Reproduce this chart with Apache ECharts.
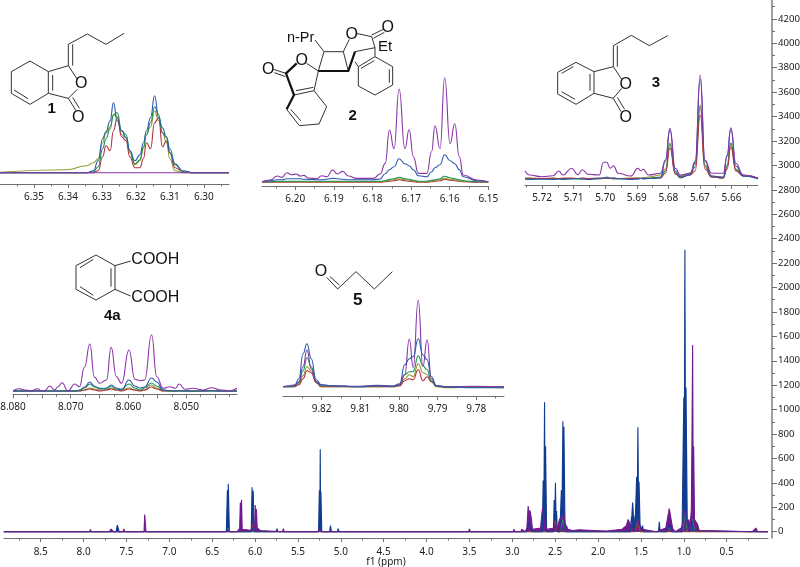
<!DOCTYPE html>
<html>
<head>
<meta charset="utf-8">
<style>html,body{margin:0;padding:0;background:#fff}#c{width:800px;height:567px}</style>
<script src="https://cdn.jsdelivr.net/npm/echarts@6/dist/echarts.min.js"></script>
</head>
<body>
<div id="c"></div>
<script>
// ---------- main spectrum (ppm / intensity) ----------
const mainYMajor = [0,200,400,600,800,1000,1200,1400,1600,1800,2000,2200,2400,2600,2800,3000,3200,3400,3600,3800,4000,4200];
const mainYMinor = [100,300,500,700,900,1100,1300,1500,1700,1900,2100,2300,2500,2700,2900,3100,3300,3500,3700,3900,4100,4300];
const mainXMajor = [8.5,8,7.5,7,6.5,6,5.5,5,4.5,4,3.5,3,2.5,2,1.5,1,0.5];
const mainXMinor = [8.75,8.25,7.75,7.25,6.75,6.25,5.75,5.25,4.75,4.25,3.75,3.25,2.75,2.25,1.75,1.25,0.75,0.25];

const mainBluePpm = [8.93,7.62,7.607,7.598,7.585,6.46,6.45,6.44,6.335,6.323,6.318,6.312,6.30,6.045,6.035,6.028,6.022,6.01,5.755,5.745,5.735,5.31,5.30,5.29,5.26,5.25,5.244,5.24,5.236,5.232,5.222,5.13,5.12,5.11,5.04,5.03,5.02,2.9,2.83,2.815,2.80,2.785,2.77,2.65,2.64,2.632,2.624,2.618,2.612,2.60,2.52,2.512,2.505,2.497,2.49,2.484,2.475,2.445,2.428,2.42,2.41,2.404,2.398,2.385,2.26,2.25,2.24,1.625,1.61,1.603,1.597,1.59,1.583,1.57,1.565,1.55,1.543,1.535,1.528,1.522,1.51,1.49,1.48,1.47,1.295,1.286,1.275,1.20,1.17,1.14,1.02,1.0,0.995,0.987,0.98,0.974,0.96,0.94,0.925,0.905,0.895,0.88,0.2,0.018];
const mainBlueInt = [0,0,55,55,0,0,8,0,0,340,200,393,0,0,363,200,335,0,0,25,0,0,10,0,0,340,180,675,180,330,0,0,50,0,0,25,0,0,0,80,60,50,0,0,420,150,1060,200,700,0,0,260,90,400,90,170,0,0,340,200,905,300,860,0,0,12,0,0,120,80,240,80,130,0,0,450,200,855,200,410,60,10,50,0,0,82,0,0,60,0,0,1100,400,2310,400,1180,100,110,0,90,10,0,0,0];

const mainPurplePpm = [8.93,8.34,8.33,8.32,7.93,7.92,7.91,7.70,7.68,7.665,7.65,7.54,7.53,7.52,7.295,7.287,7.28,7.272,6.21,6.20,6.18,6.172,6.166,6.158,6.15,6.14,6.02,6.005,5.998,5.992,5.985,5.975,5.96,5.94,5.93,5.68,5.67,5.66,5.27,5.25,5.23,4.66,4.65,4.64,3.83,3.82,3.81,3.51,3.50,3.49,2.99,2.98,2.97,2.90,2.89,2.85,2.83,2.815,2.805,2.795,2.78,2.765,2.75,2.67,2.655,2.645,2.63,2.62,2.60,2.51,2.50,2.47,2.45,2.42,2.40,2.38,2.35,2.30,2.22,2.05,1.90,1.72,1.67,1.65,1.63,1.60,1.57,1.54,1.52,1.48,1.32,1.21,1.19,1.17,1.155,1.13,1.10,1.03,1.01,0.995,0.98,0.96,0.94,0.93,0.912,0.905,0.897,0.89,0.885,0.875,0.86,0.84,0.82,0.2,0.158,0.14,0.018];
const mainPurpleInt = [0,0,10,0,0,18,0,0,22,16,0,0,22,0,0,140,135,0,0,15,25,240,120,262,20,8,10,30,218,100,185,30,25,10,0,0,25,0,0,25,0,0,15,0,0,8,0,0,22,0,0,20,0,0,20,0,30,210,130,175,120,20,5,30,150,200,110,60,20,30,60,40,100,120,140,60,20,10,15,10,5,20,50,100,70,20,30,100,50,20,0,30,110,190,130,25,0,30,70,180,90,60,100,20,180,737,1530,300,700,100,90,60,10,0,30,0,0];

const mainGreenPpm = [8.93,6.34,6.32,6.30,2.52,2.50,2.48,2.44,2.41,2.38,1.62,1.597,1.57,1.56,1.535,1.51,1.20,1.17,1.14,1.01,0.987,0.96,0.92,0.897,0.87,0.018];
const mainGreenInt = [0,0,30,0,0,170,0,0,100,0,0,230,0,0,100,0,0,30,0,0,160,0,0,100,0,0];
const mainRedPpm = [8.93,6.05,6.03,6.01,2.52,2.50,2.48,1.56,1.535,1.51,0.018];
const mainRedInt = [0,0,60,0,0,120,0,0,70,0,0];

// ---------- inset 1 (6.36 - 6.29 ppm) ----------
const in1Major = [6.35,6.34,6.33,6.32,6.31,6.30];
const in1Minor = [6.355,6.345,6.335,6.325,6.315,6.305,6.295];
const in1Ppm = [6.360,6.3404,6.3345,6.3325,6.3311,6.3298,6.3288,6.3276,6.3266,6.3255,6.3242,6.3229,6.3218,6.3203,6.3188,6.3178,6.3169,6.3157,6.3145,6.3133,6.3122,6.3110,6.3100,6.3085,6.3061,6.3031,6.2926];
const in1Blue = [0,0,0,2,12,34,41,52,70,52,42,35,22,12,18,30,42,55,77,55,45,35,20,8,2,0,0];
const in1Green = [0,0,0,1,6,24,34,44,58,60,42,38,22,9,13,26,38,50,66,58,40,36,24,9,1,0,0];
const in1Olive = [0.5,3,7,10,14,30,40,46,58,56,38,35,20,8,12,24,38,46,62,52,40,30,14,2,0,0,0];
const in1Red = [0,0,0,0,2,16,27,22,42,55,36,32,16,5,5,14,30,24,50,55,26,32,20,5,1,0,0];
const in1Purple = [0,0,0,0,0,0,0,0,0,0,0,0,0,0,0,0,0,0,0,0,0,0,0,0,0,0,0];

// ---------- inset 2 (6.21 - 6.15 ppm) ----------
const in2Major = [6.20,6.19,6.18,6.17,6.16,6.15];
const in2Minor = [6.205,6.195,6.185,6.175,6.165,6.155];
const in2Ppm = [6.2086,6.2065,6.2046,6.2034,6.2022,6.2009,6.1997,6.1987,6.1978,6.1966,6.1944,6.1931,6.1918,6.1903,6.1891,6.1877,6.1862,6.1841,6.1797,6.1780,6.1767,6.1756,6.1744,6.1731,6.1716,6.1705,6.1694,6.1681,6.1659,6.1647,6.1638,6.1625,6.1613,6.1599,6.1587,6.1575,6.1565,6.1530,6.1500];
const in2Purple = [0,1.7,5.7,4.3,9,7,7.7,5.7,6.3,3.7,3,6,5,11.7,7.7,10.3,5.7,3.3,3.3,7.7,18.3,51.7,33,92.7,33,52,25,8.3,8.3,30,56,33,104,38,58,25,6.7,1.7,0];
const in2Blue = [0,1,2,2,3,3,3,3,2.5,2.3,2,2,2.5,3.3,3,2.5,2,2,2,2.7,8,12,15,23,18,16,12,6,5,10,14,17,27,21,18,12,5,1,0];
const in2Green = [0,0,0.5,0.5,0.5,0.5,0.5,0.5,0.5,0.5,0.5,0.5,0.5,0.5,0.5,0.5,0.5,0.5,0.5,0.5,1,2.5,3,4.5,3,2.5,1.5,0.5,0.5,1.5,2,3,5.5,4,3,2,1,0,0];
const in2Olive = [0,0,0,0,0,0,0,0,0,0,0,0,0,0,0,0,0,0,0,0,0.5,1.5,2,3,2,1.5,1,0,0,1,1.5,2,3.5,2.5,2,1,0.5,0,0];
const in2Red = [-0.5,-0.5,-0.5,-0.5,-0.5,-0.5,-0.5,-0.5,-0.5,-0.5,-0.5,-0.5,-0.5,-0.5,-0.5,-0.5,-0.5,-0.5,-0.5,-0.5,0,0.5,1,2,1,0.5,0,-0.5,-0.5,0,0.5,1,2.5,1.5,1,0.5,0,-0.5,-0.5];

// ---------- inset 3 (5.72 - 5.66 ppm) ----------
const in3Major = [5.72,5.71,5.70,5.69,5.68,5.67,5.66];
const in3Minor = [5.725,5.715,5.705,5.695,5.685,5.675,5.665,5.655];
const in3Ppm = [5.7254,5.7239,5.7202,5.7165,5.7147,5.7134,5.7106,5.7087,5.7072,5.7055,5.7019,5.7005,5.6995,5.6984,5.6974,5.6959,5.6919,5.6896,5.6888,5.6880,5.6862,5.6825,5.6809,5.6795,5.6778,5.6762,5.6731,5.6715,5.6699,5.6684,5.6663,5.6626,5.6614,5.6602,5.6586,5.6563,5.6516];
const in3Purple = [8.3,4,2.3,3.3,8,4,10.7,4.3,9.3,4.7,4,16.7,16.7,10.7,13.3,5.7,3,10.7,8.3,9.7,4,5.7,19,50.7,10.7,4,5.7,15.7,104,19,5.7,5.7,22.3,51.3,15.7,4,0.7];
const in3Blue = [0,-0.5,0,-0.5,0,-0.5,0,0.5,0,-0.5,0.5,1,2,1,1,0.5,-0.5,0,1,0,0.5,1,18,49,8,2,4,18,100,18,3,2,24,50,13,3,0];
const in3Green = [0,0.5,0,0.5,0,0.5,0.5,0,0.5,0,0.5,0.5,1,0.5,0.5,0,0.5,0,0.5,0.5,1,2,8,35,6,1,5,12,74,14,2,1,14,36,9,3,1];
const in3Olive = [0.5,0,0.5,0,0.5,0,0.5,0.5,0,0.5,0,0.5,0.5,0.5,0,0.5,1,1,0.5,1,2,4,10,36,6,3,6,15,72,12,3,1,12,35,10,4,1];
const in3Red = [1,1,0.5,1,0.5,1,1,0.5,1,0.5,1,1,1,0.5,1,0.5,0.5,1,0.5,1,0.5,1,6,31,5,2,4,8,64,10,2,1,10,32,8,3,1];

// ---------- inset 4 (8.08 - 8.04 ppm) ----------
const in4Major = [8.08,8.07,8.06,8.05];
const in4Mid = [8.075,8.065,8.055,8.045];
const in4Minor = [8.0775,8.0725,8.0675,8.0625,8.0575,8.0525,8.0475,8.0425];
const in4Ppm = [8.0800,8.0789,8.0780,8.0769,8.0757,8.0751,8.0746,8.0736,8.0728,8.0722,8.0715,8.0705,8.0693,8.0685,8.0676,8.0667,8.0659,8.0650,8.0638,8.0630,8.0621,8.0612,8.0599,8.0589,8.0580,8.0572,8.0560,8.0551,8.0540,8.0528,8.0519,8.0512,8.0502,8.0488,8.0470,8.0456,8.0441,8.0424,8.0412];
const in4Purple = [0.3,2.3,1,0.3,2.3,0,0,5,1,4.3,8.3,0,7,4.3,24,47,14,7.7,11,43.7,14.3,7.7,41,11.7,10.3,11,56,14.3,2.7,4.3,2.7,7,1.7,2.7,1,3.3,1,0.3,2.7];
const in4Blue = [0,0,0,0,0,0,0,0,0,0,0,0,0,1,4,9,5,2,3,6,3,1,11,5,3,4,13,9,1,0.5,0,0.5,0,0,0,0,0,0,0];
const in4Green = [0,0,0,0,0,0,0,0,0,0,0,0,0,0.5,3,7,4,3,2,5,2,2,7,3,1,3,8,5,1,0,0,0,0,0,0,0,0,0,0];
const in4Olive = [0,0,0,0,0,0,0.5,0,0,0,0,0,0,0,1,3,2,1,1,3,1,1,3,1,1,1,6,3,0,0,0,0,0,0,0,0.5,0,0,0];
const in4Red = [0,0,0,0,0,0,0,0,0,0,0,0,0,0,1,2,1,0,1,2,1,0,2,1,0,1,4,2,0,0,0,0,0,0,0,0.5,0,0,0];

// ---------- inset 5 (9.83 - 9.77 ppm) ----------
const in5Major = [9.82,9.81,9.80,9.79,9.78];
const in5Minor = [9.825,9.815,9.805,9.795,9.785,9.775];
const in5Ppm = [9.8300,9.8283,9.8270,9.8259,9.8248,9.8238,9.8227,9.8214,9.8201,9.8175,9.8102,9.8059,9.8016,9.7998,9.7985,9.7973,9.7963,9.7950,9.7938,9.7927,9.7916,9.7903,9.7878,9.7809,9.7728];
const in5Purple = [0,1,2,5,20,36.7,18,5,2,1,0.5,1.5,0.7,2,12,47.7,19,86.7,20,47,8,1,0,0.5,0];
const in5Blue = [0,0.5,1,8,33,43,28,7,2,1,0,1,0.3,3,22,28,30,48,32,27,10,1,0,-1,-1];
const in5Green = [0,0,1,4,16,29,20,5,1,1,0,1,0.3,2,12,15,15,31,21,17,6,1,0,-0.5,-0.5];
const in5Olive = [0,0,0,3,11,20,16,4,0,0,0,0,0,1,8,12,10,23,14,12,5,0,-1,-0.5,-1];
const in5Red = [0,0,0,2,8,16,14,4,0,0,0,0,0,1,6,8,7,17,6,10,5,1,-0.5,0,0];

const C = {blue:'#2a5bae',purple:'#8a35a8',green:'#1e8f50',olive:'#8f9a2c',red:'#b2303f',navy:'#103c90',dpurple:'#6f1a90'};
const AXC = '#6f6f6f', TXT = '#222', FONT = '"Noto Sans",sans-serif';

const zip = (xs, ys) => xs.map((x, i) => [x, ys[i]]);

const grids = [], xAxes = [], yAxes = [], series = [];

function addLine(gi, xi, yi, xs, ys, color, width, smooth, filled) {
  const s = {type:'line', xAxisIndex:xi, yAxisIndex:yi, data:zip(xs, ys), symbol:'none', smooth:smooth,
    smoothMonotone:smooth?'x':undefined, silent:true, animation:false,
    lineStyle:{color:color, width:width}};
  if (filled) s.areaStyle = {color:color, opacity:1, origin:0};
  series.push(s);
}

function addPanel(p) {
  const gi = grids.length;
  grids.push({left:p.left, top:p.top, width:p.width, height:p.height, outerBoundsMode:'none', containLabel:false});
  const xi = xAxes.length, yi = yAxes.length;
  const tick = (vals, len) => ({show:true, inside:false, length:len, customValues:vals, lineStyle:{color:AXC, width:1}});
  xAxes.push({type:'value', gridIndex:gi, inverse:true, min:p.xLow, max:p.xHigh, position:'bottom', splitLine:{show:false},
    axisLine:{show:true, onZero:false, lineStyle:{color:AXC, width:1}},
    axisTick:tick(p.major, 4),
    axisLabel:{show:true, customValues:p.major, hideOverlap:false, margin:p.labelMargin, color:TXT, fontFamily:FONT, fontSize:10,
      formatter:v => Number(v).toFixed(p.dec)},
    name:p.name||'', nameLocation:'middle', nameGap:p.nameGap||0, nameMoveOverlap:false, nameTextStyle:{color:TXT, fontFamily:FONT, fontSize:10}});
  (p.extra||[]).forEach(t => {
    xAxes.push({type:'value', gridIndex:gi, inverse:true, min:p.xLow, max:p.xHigh, position:'bottom', splitLine:{show:false},
      axisLine:{show:false, onZero:false}, axisLabel:{show:false}, axisTick:tick(t.vals, t.len)});
  });
  yAxes.push({type:'value', gridIndex:gi, min:p.yMin, max:p.yMax, show:false});
  return {gi, xi, yi};
}

// main panel
const m = addPanel({left:4, top:0, width:764, height:538, xHigh:8.928, xLow:0.018, major:mainXMajor, dec:1, labelMargin:9,
  extra:[{vals:mainXMinor, len:2.5}], yMin:-51.6, yMax:4354.6, name:'f1 (ppm)', nameGap:19});
yAxes[m.yi] = {type:'value', gridIndex:m.gi, min:-51.6, max:4354.6, position:'right', offset:4, splitLine:{show:false},
  axisLine:{show:true, onZero:false, lineStyle:{color:'#808080', width:1.5}},
  axisTick:{show:true, length:5, customValues:mainYMajor, lineStyle:{color:AXC}},
  axisLabel:{show:true, customValues:mainYMajor, margin:6, color:TXT, fontFamily:FONT, fontSize:9.6, align:'left', formatter:v => String(v)}};
yAxes.push({type:'value', gridIndex:m.gi, min:-51.6, max:4354.6, position:'right', offset:4, splitLine:{show:false},
  axisLine:{show:false, onZero:false}, axisLabel:{show:false},
  axisTick:{show:true, length:3, customValues:mainYMinor, lineStyle:{color:AXC}}});

addLine(m.gi, m.xi, m.yi, mainGreenPpm, mainGreenInt, C.green, 1, false, false);
addLine(m.gi, m.xi, m.yi, mainRedPpm, mainRedInt, C.red, 1, false, false);
addLine(m.gi, m.xi, m.yi, mainBluePpm, mainBlueInt, C.navy, 1.1, false, true);
addLine(m.gi, m.xi, m.yi, mainPurplePpm, mainPurpleInt, C.dpurple, 1.1, false, true);

// inset panels
const insets = [
 {left:0, top:90, width:229, height:94, xHigh:6.36, xLow:6.2926, yMin:-11.3, yMax:82.7, major:in1Major, dec:2, extra:[{vals:in1Minor,len:2.5}], xs:in1Ppm,
  lines:[[in1Olive,C.olive],[in1Red,C.red],[in1Green,C.green],[in1Blue,C.blue],[in1Purple,C.purple]]},
 {left:262, top:70, width:226.3, height:116, xHigh:6.2086, xLow:6.15, yMin:-4.3, yMax:111.7, major:in2Major, dec:2, extra:[{vals:in2Minor,len:2.5}], xs:in2Ppm,
  lines:[[in2Red,C.red],[in2Olive,C.olive],[in2Green,C.green],[in2Blue,C.blue],[in2Purple,C.purple]]},
 {left:525, top:70, width:233, height:115, xHigh:5.7254, xLow:5.6516, yMin:-6, yMax:109, major:in3Major, dec:2, extra:[{vals:in3Minor,len:2.5}], xs:in3Ppm,
  lines:[[in3Olive,C.olive],[in3Green,C.green],[in3Red,C.red],[in3Blue,C.blue],[in3Purple,C.purple]]},
 {left:13, top:330, width:224, height:64.3, xHigh:8.08, xLow:8.0412, yMin:-3.3, yMax:61, major:in4Major, dec:3, extra:[{vals:in4Mid,len:4},{vals:in4Minor,len:2.5}], xs:in4Ppm,
  lines:[[in4Olive,C.olive],[in4Red,C.red],[in4Green,C.green],[in4Blue,C.blue],[in4Purple,C.purple]]},
 {left:283, top:290, width:221, height:106, xHigh:9.83, xLow:9.7728, yMin:-9.3, yMax:96.7, major:in5Major, dec:2, extra:[{vals:in5Minor,len:2.5}], xs:in5Ppm,
  lines:[[in5Olive,C.olive],[in5Red,C.red],[in5Green,C.green],[in5Purple,C.purple],[in5Blue,C.blue]]}
];
insets.forEach(p => {
  p.labelMargin = 8;
  const r = addPanel(p);
  p.lines.forEach(l => addLine(r.gi, r.xi, r.yi, p.xs, l[0], l[1], 1.1, 0.5, false));
});

// ---------- chemical structures (decoration) ----------
const gfx = [];
const BOND = '#333';
function mol(ox, oy, bonds, bold, texts) {
  bonds.forEach(b => gfx.push({type:'polyline', silent:true, shape:{points:b.map(q => [ox+q[0]/3, oy+q[1]/3])}, style:{stroke:BOND, fill:null, lineWidth:1}}));
  (bold||[]).forEach(b => gfx.push({type:'polyline', silent:true, shape:{points:b.map(q => [ox+q[0]/3, oy+q[1]/3])}, style:{stroke:'#111', fill:null, lineWidth:2.2}}));
  texts.forEach(t => gfx.push({type:'text', silent:true, x:ox+t[1]/3, y:oy+t[2]/3, style:{text:t[0], fill:'#111', font:(t[4]?'bold ':'')+t[3]+'px "Liberation Sans",Arial,sans-serif', textAlign:'center', textVerticalAlign:'middle', verticalAlign:'middle', align:'center'}}));
}
mol(0,0,[
 [[372,100],[318,133],[262,102],[205,133],[205,197]],[[218,133],[218,197]],
 [[205,197],[232,238]],[[232,268],[205,295]],[[205,197],[145,215],[145,280],[205,295]],[[158,225],[158,272]],
 [[145,215],[90,183],[34,215],[34,280],[90,313],[145,280]],[[42,270],[84,296]],
 [[205,295],[228,332]],[[218,292],[238,325]]
],[],[['O',244,252,16],['O',235,352,16],['1',155,328,15,true]]);
mol(250,0,[
 [[195,120],[222,155],[280,155],[295,213]],[[222,155],[205,213]],[[280,155],[298,118]],[[318,100],[365,110],[375,143],[315,155]],
 [[365,105],[400,88]],[[370,115],[403,97]],[[375,143],[375,170],[428,200],[428,255],[375,285],[325,258],[325,200],[375,170]],
 [[418,208],[418,248]],[[333,205],[373,182]],[[315,185],[325,200]],[[205,213],[170,190]],[[70,208],[108,220]],[[73,218],[106,230]],
 [[205,213],[192,272],[230,320],[207,372],[148,377]],[[132,285],[192,272]],[[138,272],[190,262]],[[110,328],[148,377]],[[122,328],[152,362]]
],[[[205,213],[295,213],[315,155]],[[140,190],[108,220],[132,285],[110,328]]],
[['n-Pr',152,115,14.5],['O',305,103,16],['O',413,82,16],['Et',405,140,15],['O',155,183,16],['O',55,210,16],['2',308,348,15,true]]);
mol(520,0,[
 [[443,107],[388,137],[334,106],[280,137],[280,200]],[[292,137],[292,200]],[[280,200],[305,238]],[[305,265],[280,295]],
 [[280,200],[222,215],[222,280],[280,295]],[[210,222],[210,272]],[[222,215],[168,187],[113,217],[113,282],[168,313],[222,280]],
 [[160,200],[125,220]],[[125,275],[165,298]],[[280,295],[303,335]],[[292,292],[314,328]]
],[],[['O',317,253,16],['O',317,352,16],['3',408,250,15,true]]);
mol(0,220,[
 [[288,105],[345,137],[345,208],[288,240],[228,208],[228,137],[288,105]],[[333,145],[333,200]],[[280,118],[240,143]],[[240,200],[280,226]],
 [[345,137],[392,123]],[[345,208],[392,228]]
],[],[['COOH',466,120,16],['COOH',466,232,16],['4a',337,288,15,true]]);
mol(260,220,[
 [[200,172],[233,207],[288,155],[343,207],[397,155]],[[210,170],[238,195]]
],[],[['O',183,155,16],['5',293,240,17,true]]);

const chart = echarts.init(document.getElementById('c'), null, {renderer:'canvas'});
chart.setOption({animation:false, backgroundColor:'#fff', grid:grids, xAxis:xAxes, yAxis:yAxes, series:series, graphic:{elements:gfx}});
</script>
</body>
</html>
